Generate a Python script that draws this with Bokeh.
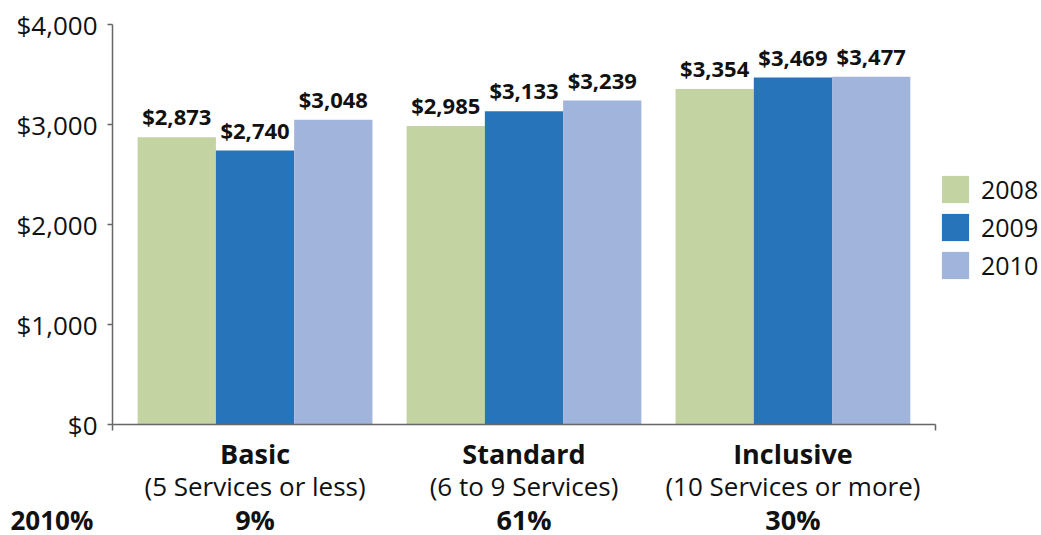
from bokeh.plotting import figure
from bokeh.models import (ColumnDataSource, Range1d, FixedTicker, NumeralTickFormatter,
                          Legend, LegendItem)
from bokeh.core.properties import value
from bokeh.embed import file_html
from bokeh.resources import INLINE

# ---- data ----
categories = ["Basic", "Standard", "Inclusive"]
subtitles = ["(5 Services or less)", "(6 to 9 Services)", "(10 Services or more)"]
share_2010 = ["9%", "61%", "30%"]
share_label = "2010%"
years = ["2008", "2009", "2010"]
cost_2008 = [2873, 2985, 3354]
cost_2009 = [2740, 3133, 3469]
cost_2010 = [3048, 3239, 3477]
y_ticks = [0, 1000, 2000, 3000, 4000]

series = [cost_2008, cost_2009, cost_2010]
colors = ["#C3D3A1", "#2874BA", "#A1B4DB"]
FONT = "Open Sans"
TXT = "#111111"
AX = "#666666"

W, H = 1041, 535
XPX = 268.95          # pixels per category unit
YPX = 0.1             # pixels per dollar
x0 = -0.03            # where the value axis sits
x_start = x0 - 112 / XPX
y_top = 4000 + 24 / YPX

p = figure(width=W, height=H, output_backend="svg", toolbar_location=None,
           x_range=Range1d(x_start, x_start + W / XPX),
           y_range=Range1d(y_top - H / YPX, y_top),
           min_border=0)
p.outline_line_color = None
p.xgrid.visible = False
p.ygrid.visible = False
p.background_fill_color = "white"
p.border_fill_color = "white"

bw = 0.291
offsets = [-bw, 0.0, bw]
centers = [i + 0.5 for i in range(len(categories))]

items = []
for yr, vals, col, off in zip(years, series, colors, offsets):
    src = ColumnDataSource(dict(
        x=[c + off for c in centers],
        top=vals,
        lab=["${:,}".format(v) for v in vals],
    ))
    r = p.vbar(x="x", top="top", width=bw, bottom=0, source=src,
               fill_color=col, line_color=None)
    p.text(x="x", y="top", text="lab", source=src, text_align="center",
           text_baseline="alphabetic", y_offset=-21, text_font=value(FONT),
           text_font_style="bold", text_font_size="22px", text_color=TXT)
    items.append(LegendItem(label=yr, renderers=[r]))

legend = Legend(items=items, location=(938, 253), padding=0, margin=0,
                glyph_width=34, glyph_height=34, label_height=34, spacing=4,
                label_standoff=9, label_text_font=FONT, label_text_font_size="25px",
                label_text_color=TXT, border_line_alpha=0, background_fill_alpha=0)
p.add_layout(legend, "center")

# axes
ya = p.yaxis[0]
ya.fixed_location = x0
ya.bounds = (y_ticks[0], y_ticks[-1])
ya.ticker = FixedTicker(ticks=y_ticks)
ya.formatter = NumeralTickFormatter(format="$0,0")
ya.major_tick_out = 5
ya.major_tick_in = 0
ya.minor_tick_line_color = None
ya.axis_line_color = AX
ya.axis_line_width = 1.5
ya.major_tick_line_color = AX
ya.major_tick_line_width = 1.5
ya.major_label_text_font = FONT
ya.major_label_text_font_size = "26px"
ya.major_label_text_color = TXT
ya.major_label_standoff = 10

xend = len(categories) - x0
xa = p.xaxis[0]
xa.fixed_location = 0
xa.bounds = (x0, xend)
xa.ticker = FixedTicker(ticks=[x0, xend])
xa.major_label_overrides = {x0: "", xend: ""}
xa.major_label_text_font_size = "10px"
xa.major_tick_out = 6
xa.major_tick_in = 0
xa.minor_tick_line_color = None
xa.axis_line_color = AX
xa.axis_line_width = 1.5
xa.major_tick_line_color = AX
xa.major_tick_line_width = 1.5

# category labels below the zero line
cat_src = ColumnDataSource(dict(x=centers, y=[0] * len(centers), name=categories,
                                sub=subtitles, pct=share_2010))
p.text(x="x", y="y", text="name", source=cat_src, text_align="center",
       text_baseline="alphabetic", y_offset=29, text_font=value(FONT),
       text_font_style="bold", text_font_size="27px", text_color=TXT)
p.text(x="x", y="y", text="sub", source=cat_src, text_align="center",
       text_baseline="alphabetic", y_offset=61, text_font=value(FONT),
       text_font_size="26px", text_color=TXT)
p.text(x="x", y="y", text="pct", source=cat_src, text_align="center",
       text_baseline="alphabetic", y_offset=95, text_font=value(FONT),
       text_font_style="bold", text_font_size="27px", text_color=TXT)
p.text(x=[x0], y=[0], text=[share_label], text_align="left",
       text_baseline="alphabetic", x_offset=-102, y_offset=95, text_font=value(FONT),
       text_font_style="bold", text_font_size="26px", text_color=TXT)

open("out.html", "w").write(file_html(p, INLINE))
